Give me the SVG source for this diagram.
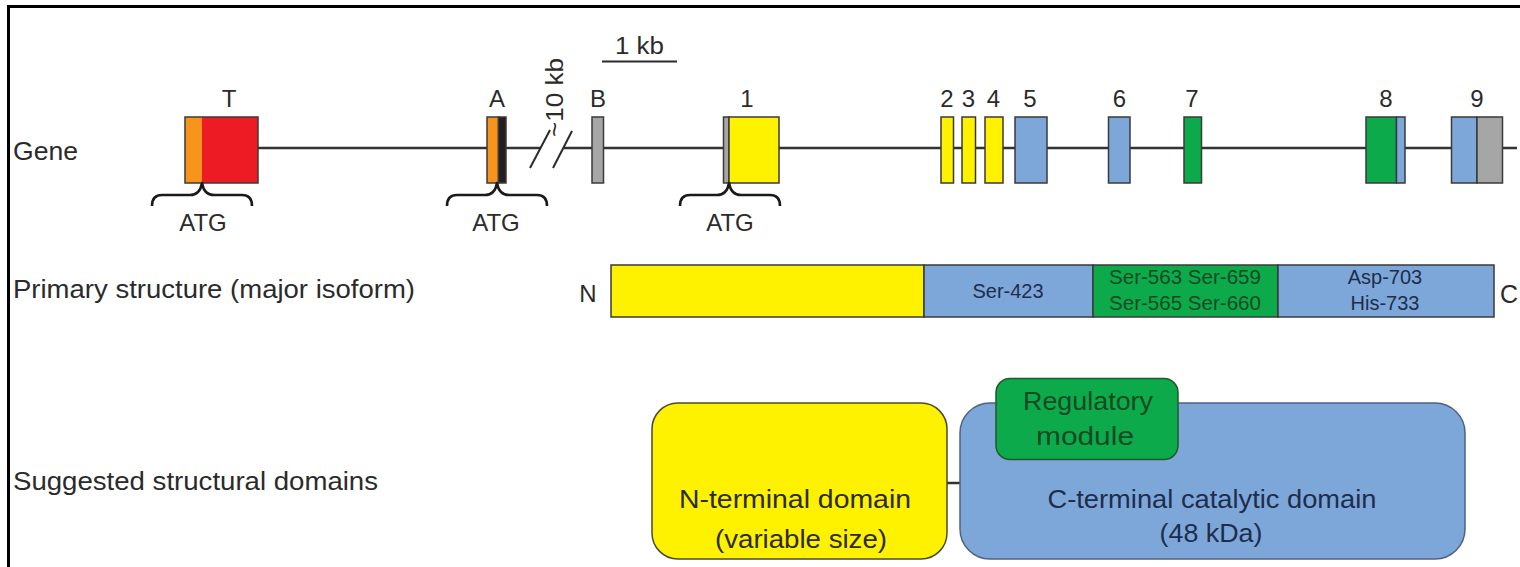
<svg xmlns="http://www.w3.org/2000/svg" width="1520" height="567" viewBox="0 0 1520 567">
<style>
text{font-family:"Liberation Sans",Arial,Helvetica,sans-serif;fill:#2b2b2b}
.lbl{font-size:26px}
.ex{font-size:24px;text-anchor:middle}
.ps{font-size:20px;text-anchor:middle}
.dom{font-size:25px;text-anchor:middle}
.ol{stroke:#3a3a3a;stroke-width:1.5}
.brace{fill:none;stroke:#1a1a1a;stroke-width:2.6;stroke-linejoin:round}
.line{stroke:#333;stroke-width:2.5;fill:none}
.or{fill:#F7941E}.rd{fill:#ED1C24}.bk{fill:#231F20}.gy{fill:#A6A6A6}.yl{fill:#FFF200}.bl{fill:#7DA7D9}.gn{fill:#0DAA4B}
.tb{fill:#1f2d4d}.tg{fill:#134a22}
</style>
<rect x="0" y="0" width="1520" height="567" fill="#ffffff"/>
<path d="M8.5,567 V6.5 H1520" fill="none" stroke="#000" stroke-width="3"/>

<g id="row-labels">
<text class="lbl" x="13" y="160" textLength="65" lengthAdjust="spacingAndGlyphs">Gene</text>
<text class="lbl" x="13" y="298" textLength="402" lengthAdjust="spacingAndGlyphs">Primary structure (major isoform)</text>
<text class="lbl" x="13" y="490" textLength="365" lengthAdjust="spacingAndGlyphs">Suggested structural domains</text>
</g>

<g id="connectors">
<line class="line" x1="258" y1="148" x2="540" y2="148"/>
<line class="line" x1="563" y1="148" x2="1517" y2="148"/>
<line class="line" x1="947" y1="483" x2="960" y2="483"/>
</g>

<g id="scale-bar">
<line x1="602" y1="61.5" x2="677" y2="61.5" stroke="#2b2b2b" stroke-width="2"/>
<text x="639.5" y="54" font-size="23" text-anchor="middle" textLength="49" lengthAdjust="spacingAndGlyphs">1 kb</text>
</g>

<g id="gap-10kb">
<line x1="530" y1="168" x2="550" y2="130" stroke="#2b2b2b" stroke-width="2"/>
<line x1="553" y1="168" x2="572" y2="131" stroke="#2b2b2b" stroke-width="2"/>
<text transform="translate(563,97.5) rotate(-90)" font-size="23" text-anchor="middle" textLength="79" lengthAdjust="spacingAndGlyphs">~10 kb</text>
</g>

<g id="exon-T">
<rect class="or" x="185" y="117" width="17" height="66"/>
<rect class="rd" x="202" y="117" width="56" height="66"/>
<rect x="185" y="117" width="73" height="66" fill="none" class="ol"/>
<text class="ex" x="229" y="106.5">T</text>
<path class="brace" d="M152,206 Q152,195 162,195 L190,195 Q200,195 202,183 Q204,195 214,195 L242,195 Q252,195 252,206"/>
<text class="ex" x="203" y="231">ATG</text>
</g>

<g id="exon-A">
<rect class="or ol" x="487" y="117" width="11.5" height="66"/>
<rect class="bk ol" x="498.5" y="117" width="7.5" height="66"/>
<text class="ex" x="497" y="106.5">A</text>
<path class="brace" d="M447,206 Q447,195 457,195 L485,195 Q495,195 497,183 Q499,195 509,195 L537,195 Q547,195 547,206"/>
<text class="ex" x="496" y="231">ATG</text>
</g>

<g id="exon-B">
<rect class="gy ol" x="592" y="117" width="11.5" height="66"/>
<text class="ex" x="598" y="106.5">B</text>
</g>

<g id="exon-1">
<rect class="gy ol" x="723.5" y="117" width="5.5" height="66"/>
<rect class="yl ol" x="729" y="117" width="50" height="66"/>
<text class="ex" x="747" y="106.5">1</text>
<path class="brace" d="M680,206 Q680,195 690,195 L717,195 Q727,195 729,183 Q731,195 741,195 L770,195 Q780,195 780,206"/>
<text class="ex" x="730" y="231">ATG</text>
</g>

<g id="exon-2"><rect class="yl ol" x="941" y="117" width="12.5" height="66"/><text class="ex" x="947" y="106.5">2</text></g>
<g id="exon-3"><rect class="yl ol" x="962" y="117" width="13.5" height="66"/><text class="ex" x="968.5" y="106.5">3</text></g>
<g id="exon-4"><rect class="yl ol" x="985" y="117" width="18" height="66"/><text class="ex" x="993.5" y="106.5">4</text></g>
<g id="exon-5"><rect class="bl ol" x="1015" y="117" width="32" height="66"/><text class="ex" x="1030" y="106.5">5</text></g>
<g id="exon-6"><rect class="bl ol" x="1108.5" y="117" width="21.5" height="66"/><text class="ex" x="1119.5" y="106.5">6</text></g>
<g id="exon-7"><rect class="gn ol" x="1184" y="117" width="17.5" height="66"/><text class="ex" x="1192" y="106.5">7</text></g>
<g id="exon-8">
<rect class="gn ol" x="1366" y="117" width="30.5" height="66"/>
<rect class="bl ol" x="1396.5" y="117" width="8.5" height="66"/>
<text class="ex" x="1386" y="106.5">8</text>
</g>
<g id="exon-9">
<rect class="bl ol" x="1451.5" y="117" width="25.5" height="66"/>
<rect class="gy ol" x="1477" y="117" width="25.5" height="66"/>
<text class="ex" x="1477" y="106.5">9</text>
</g>

<g id="primary-structure">
<text class="ex" x="588" y="302" font-size="25">N</text>
<rect class="yl ol" x="611" y="265" width="313" height="52"/>
<rect class="bl ol" x="924" y="265" width="169" height="52"/>
<rect class="gn ol" x="1093" y="265" width="185" height="52"/>
<rect class="bl ol" x="1278" y="265" width="216" height="52"/>
<text class="ps tb" x="1008" y="298">Ser-423</text>
<text class="ps tg" x="1185" y="284" textLength="152" lengthAdjust="spacingAndGlyphs">Ser-563 Ser-659</text>
<text class="ps tg" x="1185" y="310" textLength="152" lengthAdjust="spacingAndGlyphs">Ser-565 Ser-660</text>
<text class="ps tb" x="1385" y="284">Asp-703</text>
<text class="ps tb" x="1385" y="310">His-733</text>
<text x="1500" y="303" font-size="25">C</text>
</g>

<g id="domain-N">
<rect x="652" y="403" width="295" height="156" rx="26" ry="26" fill="#FFF200" stroke="#4a4a30" stroke-width="1.5"/>
<text class="dom" x="795" y="507.5" textLength="232" lengthAdjust="spacingAndGlyphs">N-terminal domain</text>
<text class="dom" x="801" y="548" textLength="172" lengthAdjust="spacingAndGlyphs">(variable size)</text>
</g>

<g id="domain-C">
<rect x="960" y="403" width="505" height="156" rx="30" ry="30" fill="#7DA7D9" stroke="#4f6282" stroke-width="1.5"/>
<text class="dom tb" x="1212" y="507.5" textLength="329" lengthAdjust="spacingAndGlyphs">C-terminal catalytic domain</text>
<text class="dom tb" x="1211" y="542" textLength="103" lengthAdjust="spacingAndGlyphs">(48 kDa)</text>
</g>

<g id="regulatory-module">
<rect x="996" y="378.5" width="182" height="81" rx="14" ry="14" fill="#0DAA4B" stroke="#1d5a2e" stroke-width="1.5"/>
<text class="dom tg" x="1088" y="410" textLength="130" lengthAdjust="spacingAndGlyphs">Regulatory</text>
<text class="dom tg" x="1085" y="445" textLength="98" lengthAdjust="spacingAndGlyphs">module</text>
</g>
</svg>
